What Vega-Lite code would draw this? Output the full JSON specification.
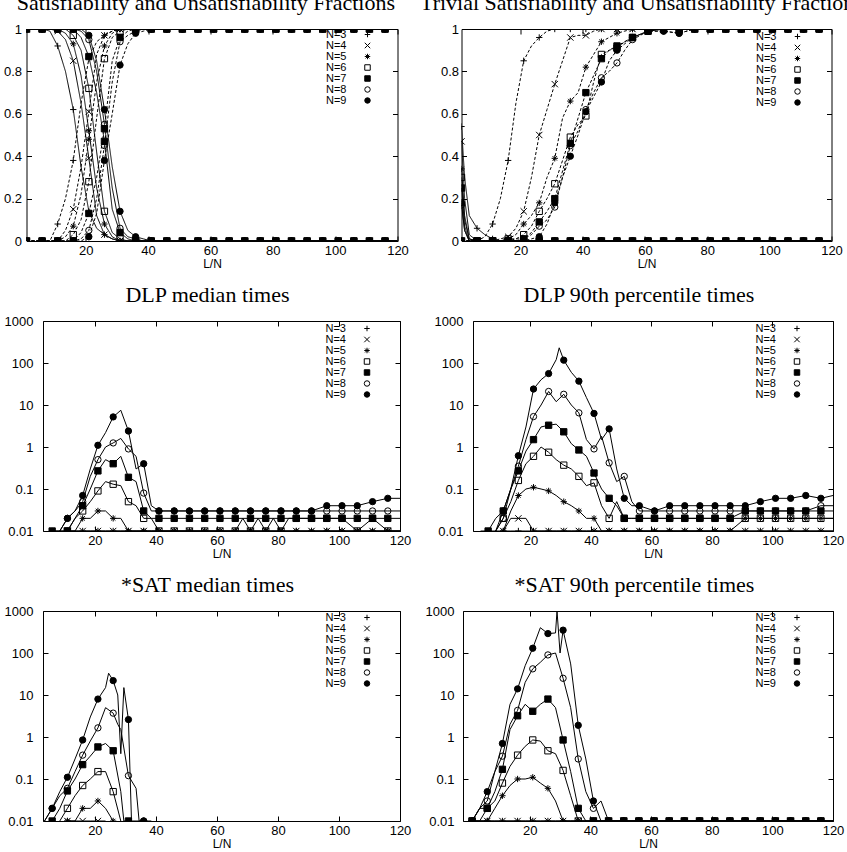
{
"$schema": "https://vega.github.io/schema/vega-lite/v6.json",
"padding": {"left": 2.5, "top": -9, "right": 0, "bottom": 0},
"background": "white",
"config": {
  "view": {"stroke": "black", "strokeWidth": 1},
  "axis": {"domain": false, "grid": false, "tickColor": "black", "tickSize": -5, "labelPadding": 8, "labelFont": "Liberation Sans", "labelFontSize": 13, "labelColor": "black", "titleFont": "Liberation Sans", "titleFontSize": 12, "titleFontWeight": "normal", "titleColor": "black", "titlePadding": 1, "labelFlush": false, "labelOverlap": false},
  "title": {"font": "Liberation Serif", "fontSize": 22, "fontWeight": "normal", "color": "black", "frame": "bounds", "anchor": "middle", "offset": 8},
  "legend": {"orient": "none", "title": null, "padding": 0, "labelAlign": "right", "labelOffset": -26.5, "labelFont": "Liberation Sans", "labelFontSize": 11, "labelColor": "black", "rowPadding": -2, "symbolSize": 30, "symbolStrokeWidth": 1}
},
"datasets": {
"p1": [
{"x":1,"k":"sat","n3":1,"n4":1,"n5":1,"n6":1,"n7":1,"n8":1,"n9":1},
{"x":3.5,"k":"sat","n3":1,"n4":1,"n5":1,"n6":1,"n7":1,"n8":1,"n9":1},
{"x":6,"k":"sat","n3":1,"n4":1,"n5":1,"n6":1,"n7":1,"n8":1,"n9":1},
{"x":8.5,"k":"sat","n3":0.99,"n4":1,"n5":1,"n6":1,"n7":1,"n8":1,"n9":1},
{"x":11,"k":"sat","n3":0.92,"n4":0.99,"n5":1,"n6":1,"n7":1,"n8":1,"n9":1},
{"x":13.5,"k":"sat","n3":0.8,"n4":0.95,"n5":0.98,"n6":1,"n7":1,"n8":1,"n9":1},
{"x":16,"k":"sat","n3":0.62,"n4":0.85,"n5":0.93,"n6":0.97,"n7":1,"n8":1,"n9":1},
{"x":18.5,"k":"sat","n3":0.35,"n4":0.65,"n5":0.78,"n6":0.9,"n7":0.96,"n8":0.99,"n9":1},
{"x":21,"k":"sat","n3":0.14,"n4":0.39,"n5":0.52,"n6":0.72,"n7":0.87,"n8":0.95,"n9":0.97},
{"x":23.5,"k":"sat","n3":0.06,"n4":0.12,"n5":0.25,"n6":0.42,"n7":0.7,"n8":0.8,"n9":0.85},
{"x":26,"k":"sat","n3":0.03,"n4":0.03,"n5":0.08,"n6":0.14,"n7":0.47,"n8":0.55,"n9":0.62},
{"x":28.5,"k":"sat","n3":0.01,"n4":0.01,"n5":0.02,"n6":0.04,"n7":0.15,"n8":0.25,"n9":0.35},
{"x":31,"k":"sat","n3":0,"n4":0,"n5":0,"n6":0.01,"n7":0.04,"n8":0.06,"n9":0.14},
{"x":33.5,"k":"sat","n3":0,"n4":0,"n5":0,"n6":0,"n7":0.01,"n8":0.02,"n9":0.05},
{"x":36,"k":"sat","n3":0,"n4":0,"n5":0,"n6":0,"n7":0,"n8":0.01,"n9":0.02},
{"x":38.5,"k":"sat","n3":0,"n4":0,"n5":0,"n6":0,"n7":0,"n8":0,"n9":0.01},
{"x":41,"k":"sat","n3":0,"n4":0,"n5":0,"n6":0,"n7":0,"n8":0,"n9":0},
{"x":46,"k":"sat","n3":0,"n4":0,"n5":0,"n6":0,"n7":0,"n8":0,"n9":0},
{"x":51,"k":"sat","n3":0,"n4":0,"n5":0,"n6":0,"n7":0,"n8":0,"n9":0},
{"x":56,"k":"sat","n3":0,"n4":0,"n5":0,"n6":0,"n7":0,"n8":0,"n9":0},
{"x":61,"k":"sat","n3":0,"n4":0,"n5":0,"n6":0,"n7":0,"n8":0,"n9":0},
{"x":66,"k":"sat","n3":0,"n4":0,"n5":0,"n6":0,"n7":0,"n8":0,"n9":0},
{"x":71,"k":"sat","n3":0,"n4":0,"n5":0,"n6":0,"n7":0,"n8":0,"n9":0},
{"x":76,"k":"sat","n3":0,"n4":0,"n5":0,"n6":0,"n7":0,"n8":0,"n9":0},
{"x":81,"k":"sat","n3":0,"n4":0,"n5":0,"n6":0,"n7":0,"n8":0,"n9":0},
{"x":86,"k":"sat","n3":0,"n4":0,"n5":0,"n6":0,"n7":0,"n8":0,"n9":0},
{"x":91,"k":"sat","n3":0,"n4":0,"n5":0,"n6":0,"n7":0,"n8":0,"n9":0},
{"x":96,"k":"sat","n3":0,"n4":0,"n5":0,"n6":0,"n7":0,"n8":0,"n9":0},
{"x":101,"k":"sat","n3":0,"n4":0,"n5":0,"n6":0,"n7":0,"n8":0,"n9":0},
{"x":106,"k":"sat","n3":0,"n4":0,"n5":0,"n6":0,"n7":0,"n8":0,"n9":0},
{"x":111,"k":"sat","n3":0,"n4":0,"n5":0,"n6":0,"n7":0,"n8":0,"n9":0},
{"x":116,"k":"sat","n3":0,"n4":0,"n5":0,"n6":0,"n7":0,"n8":0,"n9":0},
{"x":120,"k":"sat","n3":0,"n4":0,"n5":0,"n6":0,"n7":0,"n8":0,"n9":0},
{"x":1,"k":"unsat","n3":0,"n4":0,"n5":0,"n6":0,"n7":0,"n8":0,"n9":0},
{"x":3.5,"k":"unsat","n3":0,"n4":0,"n5":0,"n6":0,"n7":0,"n8":0,"n9":0},
{"x":6,"k":"unsat","n3":0,"n4":0,"n5":0,"n6":0,"n7":0,"n8":0,"n9":0},
{"x":8.5,"k":"unsat","n3":0,"n4":0,"n5":0,"n6":0,"n7":0,"n8":0,"n9":0},
{"x":11,"k":"unsat","n3":0.08,"n4":0,"n5":0,"n6":0,"n7":0,"n8":0,"n9":0},
{"x":13.5,"k":"unsat","n3":0.2,"n4":0.05,"n5":0.02,"n6":0,"n7":0,"n8":0,"n9":0},
{"x":16,"k":"unsat","n3":0.38,"n4":0.15,"n5":0.07,"n6":0.03,"n7":0,"n8":0,"n9":0},
{"x":18.5,"k":"unsat","n3":0.65,"n4":0.35,"n5":0.22,"n6":0.1,"n7":0.04,"n8":0.01,"n9":0},
{"x":21,"k":"unsat","n3":0.86,"n4":0.61,"n5":0.48,"n6":0.28,"n7":0.13,"n8":0.05,"n9":0.02},
{"x":23.5,"k":"unsat","n3":0.94,"n4":0.88,"n5":0.75,"n6":0.58,"n7":0.3,"n8":0.2,"n9":0.13},
{"x":26,"k":"unsat","n3":0.97,"n4":0.97,"n5":0.92,"n6":0.86,"n7":0.53,"n8":0.45,"n9":0.38},
{"x":28.5,"k":"unsat","n3":0.99,"n4":0.99,"n5":0.98,"n6":0.96,"n7":0.85,"n8":0.75,"n9":0.6},
{"x":31,"k":"unsat","n3":1,"n4":1,"n5":1,"n6":0.99,"n7":0.96,"n8":0.94,"n9":0.83},
{"x":33.5,"k":"unsat","n3":1,"n4":1,"n5":1,"n6":1,"n7":0.99,"n8":0.97,"n9":0.93},
{"x":36,"k":"unsat","n3":1,"n4":1,"n5":1,"n6":1,"n7":1,"n8":0.99,"n9":0.98},
{"x":38.5,"k":"unsat","n3":1,"n4":1,"n5":1,"n6":1,"n7":1,"n8":1,"n9":0.99},
{"x":41,"k":"unsat","n3":1,"n4":1,"n5":1,"n6":1,"n7":1,"n8":1,"n9":1},
{"x":46,"k":"unsat","n3":1,"n4":1,"n5":1,"n6":1,"n7":1,"n8":1,"n9":1},
{"x":51,"k":"unsat","n3":1,"n4":1,"n5":1,"n6":1,"n7":1,"n8":1,"n9":1},
{"x":56,"k":"unsat","n3":1,"n4":1,"n5":1,"n6":1,"n7":1,"n8":1,"n9":1},
{"x":61,"k":"unsat","n3":1,"n4":1,"n5":1,"n6":1,"n7":1,"n8":1,"n9":1},
{"x":66,"k":"unsat","n3":1,"n4":1,"n5":1,"n6":1,"n7":1,"n8":1,"n9":1},
{"x":71,"k":"unsat","n3":1,"n4":1,"n5":1,"n6":1,"n7":1,"n8":1,"n9":1},
{"x":76,"k":"unsat","n3":1,"n4":1,"n5":1,"n6":1,"n7":1,"n8":1,"n9":1},
{"x":81,"k":"unsat","n3":1,"n4":1,"n5":1,"n6":1,"n7":1,"n8":1,"n9":1},
{"x":86,"k":"unsat","n3":1,"n4":1,"n5":1,"n6":1,"n7":1,"n8":1,"n9":1},
{"x":91,"k":"unsat","n3":1,"n4":1,"n5":1,"n6":1,"n7":1,"n8":1,"n9":1},
{"x":96,"k":"unsat","n3":1,"n4":1,"n5":1,"n6":1,"n7":1,"n8":1,"n9":1},
{"x":101,"k":"unsat","n3":1,"n4":1,"n5":1,"n6":1,"n7":1,"n8":1,"n9":1},
{"x":106,"k":"unsat","n3":1,"n4":1,"n5":1,"n6":1,"n7":1,"n8":1,"n9":1},
{"x":111,"k":"unsat","n3":1,"n4":1,"n5":1,"n6":1,"n7":1,"n8":1,"n9":1},
{"x":116,"k":"unsat","n3":1,"n4":1,"n5":1,"n6":1,"n7":1,"n8":1,"n9":1},
{"x":120,"k":"unsat","n3":1,"n4":1,"n5":1,"n6":1,"n7":1,"n8":1,"n9":1}
],
"p2": [
{"x":1,"k":"unsat","n3":0.54,"n4":0.47,"n5":0.34,"n6":0.3,"n7":0.25,"n8":0.17,"n9":0.18},
{"x":2,"k":"unsat","n3":0.3,"n4":0.2,"n5":0.12,"n6":0.1,"n7":0.07,"n8":0.05,"n9":0.05},
{"x":3.5,"k":"unsat","n3":0.12,"n4":0.03,"n5":0.01,"n6":0.01,"n7":0,"n8":0,"n9":0},
{"x":6,"k":"unsat","n3":0.06,"n4":0,"n5":0,"n6":0,"n7":0,"n8":0,"n9":0},
{"x":8.5,"k":"unsat","n3":0.03,"n4":0,"n5":0,"n6":0,"n7":0,"n8":0,"n9":0},
{"x":11,"k":"unsat","n3":0.01,"n4":0,"n5":0,"n6":0,"n7":0,"n8":0,"n9":0},
{"x":13.5,"k":"unsat","n3":0,"n4":0,"n5":0,"n6":0,"n7":0,"n8":0,"n9":0},
{"x":16,"k":"unsat","n3":0,"n4":0,"n5":0,"n6":0,"n7":0,"n8":0,"n9":0},
{"x":21,"k":"unsat","n3":0,"n4":0,"n5":0,"n6":0,"n7":0,"n8":0,"n9":0},
{"x":26,"k":"unsat","n3":0,"n4":0,"n5":0,"n6":0,"n7":0,"n8":0,"n9":0},
{"x":31,"k":"unsat","n3":0,"n4":0,"n5":0,"n6":0,"n7":0,"n8":0,"n9":0},
{"x":36,"k":"unsat","n3":0,"n4":0,"n5":0,"n6":0,"n7":0,"n8":0,"n9":0},
{"x":41,"k":"unsat","n3":0,"n4":0,"n5":0,"n6":0,"n7":0,"n8":0,"n9":0},
{"x":46,"k":"unsat","n3":0,"n4":0,"n5":0,"n6":0,"n7":0,"n8":0,"n9":0},
{"x":51,"k":"unsat","n3":0,"n4":0,"n5":0,"n6":0,"n7":0,"n8":0,"n9":0},
{"x":56,"k":"unsat","n3":0,"n4":0,"n5":0,"n6":0,"n7":0,"n8":0,"n9":0},
{"x":61,"k":"unsat","n3":0,"n4":0,"n5":0,"n6":0,"n7":0,"n8":0,"n9":0},
{"x":66,"k":"unsat","n3":0,"n4":0,"n5":0,"n6":0,"n7":0,"n8":0,"n9":0},
{"x":71,"k":"unsat","n3":0,"n4":0,"n5":0,"n6":0,"n7":0,"n8":0,"n9":0},
{"x":76,"k":"unsat","n3":0,"n4":0,"n5":0,"n6":0,"n7":0,"n8":0,"n9":0},
{"x":81,"k":"unsat","n3":0,"n4":0,"n5":0,"n6":0,"n7":0,"n8":0,"n9":0},
{"x":86,"k":"unsat","n3":0,"n4":0,"n5":0,"n6":0,"n7":0,"n8":0,"n9":0},
{"x":91,"k":"unsat","n3":0,"n4":0,"n5":0,"n6":0,"n7":0,"n8":0,"n9":0},
{"x":96,"k":"unsat","n3":0,"n4":0,"n5":0,"n6":0,"n7":0,"n8":0,"n9":0},
{"x":101,"k":"unsat","n3":0,"n4":0,"n5":0,"n6":0,"n7":0,"n8":0,"n9":0},
{"x":106,"k":"unsat","n3":0,"n4":0,"n5":0,"n6":0,"n7":0,"n8":0,"n9":0},
{"x":111,"k":"unsat","n3":0,"n4":0,"n5":0,"n6":0,"n7":0,"n8":0,"n9":0},
{"x":116,"k":"unsat","n3":0,"n4":0,"n5":0,"n6":0,"n7":0,"n8":0,"n9":0},
{"x":120,"k":"unsat","n3":0,"n4":0,"n5":0,"n6":0,"n7":0,"n8":0,"n9":0},
{"x":1,"k":"sat","n3":0,"n4":0,"n5":0,"n6":0,"n7":0,"n8":0,"n9":0},
{"x":3.5,"k":"sat","n3":0,"n4":0,"n5":0,"n6":0,"n7":0,"n8":0,"n9":0},
{"x":6,"k":"sat","n3":0,"n4":0,"n5":0,"n6":0,"n7":0,"n8":0,"n9":0},
{"x":8.5,"k":"sat","n3":0.02,"n4":0,"n5":0,"n6":0,"n7":0,"n8":0,"n9":0},
{"x":11,"k":"sat","n3":0.08,"n4":0,"n5":0,"n6":0,"n7":0,"n8":0,"n9":0},
{"x":13.5,"k":"sat","n3":0.2,"n4":0.01,"n5":0,"n6":0,"n7":0,"n8":0,"n9":0},
{"x":16,"k":"sat","n3":0.38,"n4":0.02,"n5":0.01,"n6":0.01,"n7":0,"n8":0,"n9":0},
{"x":18.5,"k":"sat","n3":0.65,"n4":0.06,"n5":0.03,"n6":0.01,"n7":0.01,"n8":0,"n9":0},
{"x":21,"k":"sat","n3":0.85,"n4":0.14,"n5":0.08,"n6":0.03,"n7":0.01,"n8":0.01,"n9":0},
{"x":23.5,"k":"sat","n3":0.92,"n4":0.3,"n5":0.12,"n6":0.07,"n7":0.04,"n8":0.03,"n9":0.01},
{"x":26,"k":"sat","n3":0.96,"n4":0.5,"n5":0.18,"n6":0.14,"n7":0.09,"n8":0.07,"n9":0.02},
{"x":28.5,"k":"sat","n3":0.99,"n4":0.62,"n5":0.3,"n6":0.2,"n7":0.14,"n8":0.1,"n9":0.08},
{"x":31,"k":"sat","n3":1,"n4":0.74,"n5":0.39,"n6":0.27,"n7":0.2,"n8":0.16,"n9":0.18},
{"x":33.5,"k":"sat","n3":1,"n4":0.85,"n5":0.58,"n6":0.38,"n7":0.33,"n8":0.3,"n9":0.3},
{"x":36,"k":"sat","n3":1,"n4":0.96,"n5":0.66,"n6":0.49,"n7":0.46,"n8":0.45,"n9":0.4},
{"x":38.5,"k":"sat","n3":1,"n4":0.97,"n5":0.7,"n6":0.55,"n7":0.58,"n8":0.52,"n9":0.5},
{"x":41,"k":"sat","n3":1,"n4":0.97,"n5":0.82,"n6":0.59,"n7":0.7,"n8":0.62,"n9":0.61},
{"x":43.5,"k":"sat","n3":1,"n4":0.99,"n5":0.88,"n6":0.75,"n7":0.78,"n8":0.7,"n9":0.68},
{"x":46,"k":"sat","n3":1,"n4":1,"n5":0.94,"n6":0.88,"n7":0.86,"n8":0.77,"n9":0.75},
{"x":48.5,"k":"sat","n3":1,"n4":1,"n5":0.96,"n6":0.9,"n7":0.9,"n8":0.8,"n9":0.85},
{"x":51,"k":"sat","n3":1,"n4":1,"n5":0.98,"n6":0.91,"n7":0.92,"n8":0.84,"n9":0.9},
{"x":53.5,"k":"sat","n3":1,"n4":1,"n5":0.99,"n6":0.94,"n7":0.94,"n8":0.9,"n9":0.93},
{"x":56,"k":"sat","n3":1,"n4":1,"n5":1,"n6":0.96,"n7":0.96,"n8":0.95,"n9":0.96},
{"x":61,"k":"sat","n3":1,"n4":1,"n5":1,"n6":0.99,"n7":0.99,"n8":0.99,"n9":0.99},
{"x":66,"k":"sat","n3":1,"n4":1,"n5":1,"n6":1,"n7":1,"n8":0.99,"n9":0.99},
{"x":71,"k":"sat","n3":1,"n4":1,"n5":1,"n6":1,"n7":1,"n8":0.98,"n9":0.98},
{"x":76,"k":"sat","n3":1,"n4":1,"n5":1,"n6":1,"n7":1,"n8":1,"n9":1},
{"x":81,"k":"sat","n3":1,"n4":1,"n5":1,"n6":1,"n7":1,"n8":1,"n9":1},
{"x":86,"k":"sat","n3":1,"n4":1,"n5":1,"n6":1,"n7":1,"n8":1,"n9":1},
{"x":91,"k":"sat","n3":1,"n4":1,"n5":1,"n6":1,"n7":1,"n8":1,"n9":1},
{"x":96,"k":"sat","n3":1,"n4":1,"n5":1,"n6":1,"n7":1,"n8":1,"n9":1},
{"x":101,"k":"sat","n3":1,"n4":1,"n5":1,"n6":1,"n7":1,"n8":1,"n9":1},
{"x":106,"k":"sat","n3":1,"n4":1,"n5":1,"n6":1,"n7":1,"n8":1,"n9":1},
{"x":111,"k":"sat","n3":1,"n4":1,"n5":1,"n6":1,"n7":1,"n8":1,"n9":1},
{"x":116,"k":"sat","n3":1,"n4":1,"n5":1,"n6":1,"n7":1,"n8":1,"n9":1},
{"x":120,"k":"sat","n3":1,"n4":1,"n5":1,"n6":1,"n7":1,"n8":1,"n9":1}
],
"p3": [
{"x":6,"n3":0.01,"n7":0.01},
{"x":8.5,"n3":0.01,"n7":0.01,"n8":0.01,"n9":0.01},
{"x":11,"n3":0.01,"n4":0.01,"n5":0.01,"n6":0.01,"n7":0.01,"n8":0.02,"n9":0.02},
{"x":13.5,"n3":0.01,"n4":0.01,"n5":0.01,"n6":0.02,"n7":0.02,"n8":0.03,"n9":0.03},
{"x":16,"n3":0.01,"n4":0.01,"n5":0.02,"n6":0.03,"n7":0.04,"n8":0.05,"n9":0.07},
{"x":18.5,"n3":0.01,"n4":0.01,"n5":0.02,"n6":0.05,"n7":0.1,"n8":0.2,"n9":0.3},
{"x":21,"n3":0.01,"n4":0.01,"n5":0.03,"n6":0.09,"n7":0.27,"n8":0.5,"n9":1.1},
{"x":23.5,"n3":0.01,"n4":0.01,"n5":0.03,"n6":0.15,"n7":0.5,"n8":1.0,"n9":2.2},
{"x":26,"n3":0.01,"n4":0.01,"n5":0.02,"n6":0.13,"n7":0.4,"n8":1.25,"n9":5.2},
{"x":28.5,"n3":0.01,"n4":0.01,"n5":0.02,"n6":0.12,"n7":0.6,"n8":1.6,"n9":7.5},
{"x":31,"n3":0.01,"n4":0.01,"n5":0.01,"n6":0.05,"n7":0.19,"n8":0.9,"n9":2.4},
{"x":33.5,"n3":0.01,"n4":0.01,"n5":0.01,"n6":0.04,"n7":0.15,"n8":0.6,"n9":0.3},
{"x":36,"n3":0.01,"n4":0.01,"n5":0.01,"n6":0.02,"n7":0.03,"n8":0.08,"n9":0.4},
{"x":38.5,"n3":0.01,"n4":0.01,"n5":0.01,"n6":0.02,"n7":0.02,"n8":0.03,"n9":0.04},
{"x":41,"n3":0.01,"n4":0.01,"n5":0.01,"n6":0.01,"n7":0.02,"n8":0.03,"n9":0.03},
{"x":46,"n3":0.01,"n4":0.01,"n5":0.01,"n6":0.01,"n7":0.02,"n8":0.03,"n9":0.03},
{"x":51,"n3":0.01,"n4":0.01,"n5":0.01,"n6":0.01,"n7":0.02,"n8":0.03,"n9":0.03},
{"x":56,"n3":0.01,"n4":0.01,"n5":0.01,"n6":0.01,"n7":0.02,"n8":0.03,"n9":0.03},
{"x":61,"n3":0.01,"n4":0.01,"n5":0.01,"n6":0.01,"n7":0.02,"n8":0.03,"n9":0.03},
{"x":66,"n3":0.01,"n4":0.01,"n5":0.01,"n6":0.01,"n7":0.02,"n8":0.03,"n9":0.03},
{"x":68.5,"n6":0.02},
{"x":71,"n3":0.01,"n4":0.01,"n5":0.01,"n6":0.01,"n7":0.02,"n8":0.03,"n9":0.03},
{"x":73.5,"n6":0.02},
{"x":76,"n3":0.01,"n4":0.01,"n5":0.01,"n6":0.01,"n7":0.02,"n8":0.03,"n9":0.03},
{"x":78.5,"n6":0.02},
{"x":81,"n3":0.01,"n4":0.01,"n5":0.01,"n6":0.01,"n7":0.02,"n8":0.03,"n9":0.03},
{"x":83.5,"n6":0.02},
{"x":86,"n3":0.01,"n4":0.01,"n5":0.01,"n6":0.02,"n7":0.02,"n8":0.03,"n9":0.03},
{"x":91,"n3":0.01,"n4":0.01,"n5":0.01,"n6":0.02,"n7":0.02,"n8":0.03,"n9":0.03},
{"x":96,"n3":0.01,"n4":0.01,"n5":0.01,"n6":0.02,"n7":0.02,"n8":0.03,"n9":0.04},
{"x":101,"n3":0.01,"n4":0.01,"n5":0.01,"n6":0.02,"n7":0.02,"n8":0.03,"n9":0.04},
{"x":106,"n3":0.01,"n4":0.01,"n5":0.01,"n6":0.01,"n7":0.02,"n8":0.03,"n9":0.04},
{"x":111,"n3":0.01,"n4":0.01,"n5":0.01,"n6":0.02,"n7":0.02,"n8":0.03,"n9":0.05},
{"x":116,"n3":0.01,"n4":0.01,"n5":0.01,"n6":0.01,"n7":0.02,"n8":0.03,"n9":0.06},
{"x":120,"n3":0.01,"n4":0.01,"n5":0.01,"n6":0.01,"n7":0.02,"n8":0.03,"n9":0.06}
],
"p4": [
{"x":3.5,"n3":0.01},
{"x":6,"n3":0.01,"n7":0.01},
{"x":8.5,"n3":0.01,"n6":0.01,"n7":0.02,"n8":0.01,"n9":0.01},
{"x":11,"n3":0.01,"n4":0.01,"n5":0.01,"n6":0.02,"n7":0.03,"n8":0.02,"n9":0.03},
{"x":13.5,"n3":0.01,"n4":0.02,"n5":0.03,"n6":0.05,"n7":0.1,"n8":0.1,"n9":0.1},
{"x":16,"n3":0.01,"n4":0.02,"n5":0.07,"n6":0.16,"n7":0.27,"n8":0.35,"n9":0.62},
{"x":18.5,"n3":0.01,"n4":0.02,"n5":0.1,"n6":0.4,"n7":0.8,"n8":1.5,"n9":3},
{"x":21,"n3":0.01,"n4":0.01,"n5":0.11,"n6":0.6,"n7":1.5,"n8":5.3,"n9":24},
{"x":23.5,"n3":0.01,"n4":0.01,"n5":0.1,"n6":1.0,"n7":3,"n8":10,"n9":40},
{"x":26,"n3":0.01,"n4":0.01,"n5":0.09,"n6":0.75,"n7":3.3,"n8":21,"n9":56},
{"x":28.5,"n3":0.01,"n4":0.01,"n5":0.07,"n6":0.5,"n7":3.5,"n8":12,"n9":120},
{"x":29.5,"n9":230},
{"x":31,"n3":0.01,"n4":0.01,"n5":0.05,"n6":0.37,"n7":2.3,"n8":18,"n9":117},
{"x":33.5,"n3":0.01,"n4":0.01,"n5":0.04,"n6":0.3,"n7":1.2,"n8":10,"n9":60},
{"x":36,"n3":0.01,"n4":0.01,"n5":0.03,"n6":0.2,"n7":0.85,"n8":6.5,"n9":37},
{"x":38.5,"n3":0.01,"n4":0.01,"n5":0.02,"n6":0.12,"n7":0.6,"n8":1.5,"n9":15},
{"x":41,"n3":0.01,"n4":0.01,"n5":0.02,"n6":0.14,"n7":0.24,"n8":0.9,"n9":6.3},
{"x":43.5,"n3":0.01,"n4":0.01,"n5":0.01,"n6":0.04,"n7":0.1,"n8":1.8,"n9":1.5},
{"x":46,"n3":0.01,"n4":0.01,"n5":0.01,"n6":0.02,"n7":0.06,"n8":0.42,"n9":2.7},
{"x":48.5,"n3":0.01,"n4":0.01,"n5":0.01,"n6":0.05,"n7":0.04,"n8":0.15,"n9":0.3},
{"x":51,"n3":0.01,"n4":0.01,"n5":0.01,"n6":0.02,"n7":0.02,"n8":0.2,"n9":0.06},
{"x":53.5,"n3":0.01,"n4":0.01,"n5":0.01,"n6":0.02,"n7":0.02,"n8":0.05,"n9":0.04},
{"x":56,"n3":0.01,"n4":0.01,"n5":0.01,"n6":0.02,"n7":0.02,"n8":0.03,"n9":0.04},
{"x":61,"n3":0.01,"n4":0.01,"n5":0.01,"n6":0.02,"n7":0.02,"n8":0.03,"n9":0.03},
{"x":66,"n3":0.01,"n4":0.01,"n5":0.01,"n6":0.02,"n7":0.02,"n8":0.03,"n9":0.04},
{"x":71,"n3":0.01,"n4":0.01,"n5":0.01,"n6":0.02,"n7":0.02,"n8":0.03,"n9":0.04},
{"x":76,"n3":0.01,"n4":0.01,"n5":0.01,"n6":0.02,"n7":0.02,"n8":0.03,"n9":0.04},
{"x":81,"n3":0.01,"n4":0.01,"n5":0.01,"n6":0.02,"n7":0.02,"n8":0.03,"n9":0.04},
{"x":86,"n3":0.01,"n4":0.01,"n5":0.01,"n6":0.02,"n7":0.02,"n8":0.03,"n9":0.04},
{"x":91,"n3":0.01,"n4":0.01,"n5":0.02,"n6":0.02,"n7":0.03,"n8":0.03,"n9":0.04},
{"x":96,"n3":0.01,"n4":0.01,"n5":0.02,"n6":0.02,"n7":0.03,"n8":0.03,"n9":0.05},
{"x":101,"n3":0.01,"n4":0.01,"n5":0.02,"n6":0.02,"n7":0.03,"n8":0.03,"n9":0.06},
{"x":106,"n3":0.01,"n4":0.01,"n5":0.02,"n6":0.02,"n7":0.03,"n8":0.03,"n9":0.06},
{"x":111,"n3":0.01,"n4":0.01,"n5":0.02,"n6":0.02,"n7":0.03,"n8":0.03,"n9":0.07},
{"x":116,"n3":0.01,"n4":0.01,"n5":0.02,"n6":0.02,"n7":0.03,"n8":0.04,"n9":0.06},
{"x":120,"n3":0.01,"n4":0.01,"n5":0.02,"n6":0.02,"n7":0.03,"n8":0.04,"n9":0.07}
],
"p5": [
{"x":3.5,"n8":0.01,"n9":0.01},
{"x":6,"n7":0.01,"n8":0.02,"n9":0.02},
{"x":8.5,"n6":0.01,"n7":0.02,"n8":0.04,"n9":0.05},
{"x":11,"n3":0.01,"n4":0.01,"n5":0.01,"n6":0.02,"n7":0.052,"n8":0.06,"n9":0.11},
{"x":13.5,"n4":0.01,"n5":0.01,"n6":0.04,"n7":0.1,"n8":0.15,"n9":0.3},
{"x":16,"n4":0.01,"n5":0.02,"n6":0.07,"n7":0.22,"n8":0.37,"n9":0.85},
{"x":18.5,"n4":0.01,"n5":0.02,"n6":0.1,"n7":0.35,"n8":0.8,"n9":3},
{"x":21,"n4":0.01,"n5":0.03,"n6":0.15,"n7":0.58,"n8":1.65,"n9":8},
{"x":23.5,"n4":0.01,"n5":0.02,"n6":0.15,"n7":0.7,"n8":5,"n9":15},
{"x":24.5,"n9":33},
{"x":26,"n5":0.01,"n6":0.05,"n7":0.47,"n8":3.7,"n9":22},
{"x":27.5,"n8":2,"n9":10},
{"x":28.5,"n6":0.01,"n7":0.05,"n8":1.5,"n9":0.4},
{"x":29.5,"n7":0.01,"n9":15},
{"x":31,"n7":0.01,"n8":0.12,"n9":2.6},
{"x":32,"n9":0.01},
{"x":33.5,"n8":0.06,"n9":0.01},
{"x":34.5,"n8":0.01},
{"x":36,"n8":0.01,"n9":0.01},
{"x":38.5,"n9":0.01}
],
"p6": [
{"x":1,"n3":0.01,"n4":0.01,"n5":0.01,"n6":0.01,"n7":0.01,"n8":0.01,"n9":0.01},
{"x":3.5,"n3":0.01,"n4":0.01,"n5":0.01,"n6":0.01,"n7":0.02,"n8":0.02,"n9":0.02},
{"x":6,"n3":0.01,"n4":0.01,"n5":0.01,"n6":0.02,"n7":0.02,"n8":0.03,"n9":0.05},
{"x":8.5,"n3":0.01,"n4":0.01,"n5":0.02,"n6":0.03,"n7":0.05,"n8":0.15,"n9":0.15},
{"x":11,"n3":0.01,"n4":0.01,"n5":0.04,"n6":0.08,"n7":0.17,"n8":0.35,"n9":0.7},
{"x":13.5,"n3":0.01,"n4":0.01,"n5":0.07,"n6":0.2,"n7":1.5,"n8":2,"n9":6},
{"x":16,"n3":0.01,"n4":0.01,"n5":0.1,"n6":0.37,"n7":3.2,"n8":4.3,"n9":14},
{"x":18.5,"n3":0.01,"n4":0.01,"n5":0.1,"n6":0.6,"n7":6,"n8":20,"n9":50},
{"x":21,"n3":0.01,"n4":0.01,"n5":0.11,"n6":0.85,"n7":4.1,"n8":42,"n9":130},
{"x":23.5,"n3":0.01,"n4":0.01,"n5":0.08,"n6":0.8,"n7":6,"n8":60,"n9":400},
{"x":26,"n3":0.01,"n4":0.01,"n5":0.06,"n6":0.47,"n7":8,"n8":90,"n9":290},
{"x":28.5,"n3":0.01,"n4":0.01,"n5":0.03,"n6":0.4,"n7":5,"n8":100,"n9":300},
{"x":29,"n9":1000},
{"x":30,"n9":100},
{"x":31,"n3":0.01,"n4":0.01,"n5":0.01,"n6":0.16,"n7":0.85,"n8":25,"n9":350},
{"x":33.5,"n3":0.01,"n4":0.01,"n5":0.01,"n6":0.04,"n7":0.15,"n8":5,"n9":55},
{"x":36,"n3":0.01,"n4":0.01,"n5":0.01,"n6":0.01,"n7":0.02,"n8":0.3,"n9":1.9},
{"x":38.5,"n3":0.01,"n4":0.01,"n5":0.01,"n6":0.01,"n7":0.01,"n8":0.05,"n9":0.3},
{"x":41,"n3":0.01,"n4":0.01,"n5":0.01,"n6":0.01,"n7":0.01,"n8":0.02,"n9":0.03},
{"x":43.5,"n3":0.01,"n4":0.01,"n5":0.01,"n6":0.01,"n7":0.01,"n8":0.03,"n9":0.01},
{"x":46,"n3":0.01,"n4":0.01,"n5":0.01,"n6":0.01,"n7":0.01,"n8":0.01,"n9":0.01},
{"x":51,"n3":0.01,"n4":0.01,"n5":0.01,"n6":0.01,"n7":0.01,"n8":0.01,"n9":0.01},
{"x":56,"n3":0.01,"n4":0.01,"n5":0.01,"n6":0.01,"n7":0.01,"n8":0.01,"n9":0.01},
{"x":61,"n3":0.01,"n4":0.01,"n5":0.01,"n6":0.01,"n7":0.01,"n8":0.01,"n9":0.01},
{"x":66,"n3":0.01,"n4":0.01,"n5":0.01,"n6":0.01,"n7":0.01,"n8":0.01,"n9":0.01},
{"x":71,"n3":0.01,"n4":0.01,"n5":0.01,"n6":0.01,"n7":0.01,"n8":0.01,"n9":0.01},
{"x":76,"n3":0.01,"n4":0.01,"n5":0.01,"n6":0.01,"n7":0.01,"n8":0.01,"n9":0.01},
{"x":81,"n3":0.01,"n4":0.01,"n5":0.01,"n6":0.01,"n7":0.01,"n8":0.01,"n9":0.01},
{"x":86,"n3":0.01,"n4":0.01,"n5":0.01,"n6":0.01,"n7":0.01,"n8":0.01,"n9":0.01},
{"x":91,"n3":0.01,"n4":0.01,"n5":0.01,"n6":0.01,"n7":0.01,"n8":0.01,"n9":0.01},
{"x":96,"n3":0.01,"n4":0.01,"n5":0.01,"n6":0.01,"n7":0.01,"n8":0.01,"n9":0.01},
{"x":101,"n3":0.01,"n4":0.01,"n5":0.01,"n6":0.01,"n7":0.01,"n8":0.01,"n9":0.01},
{"x":106,"n3":0.01,"n4":0.01,"n5":0.01,"n6":0.01,"n7":0.01,"n8":0.01,"n9":0.01},
{"x":111,"n3":0.01,"n4":0.01,"n5":0.01,"n6":0.01,"n7":0.01,"n8":0.01,"n9":0.01},
{"x":116,"n3":0.01,"n4":0.01,"n5":0.01,"n6":0.01,"n7":0.01,"n8":0.01,"n9":0.01},
{"x":120,"n3":0.01,"n4":0.01,"n5":0.01,"n6":0.01,"n7":0.01,"n8":0.01,"n9":0.01}
]
},
"resolve": {"scale": {"shape": "independent", "fill": "independent", "stroke": "independent", "strokeDash": "independent", "x": "independent", "y": "independent"}, "legend": {"shape": "independent", "fill": "independent", "stroke": "independent"}},
"spacing": 13,
"vconcat": [
{
"hconcat": [
{
"width": 371, "height": 212,
"title": "Satisfiability and Unsatisfiability Fractions",
"data": {"name": "p1"},
"transform": [{"fold": ["n3","n4","n5","n6","n7","n8","n9"], "as": ["N","v"]}, {"filter": "datum.v != null"}],
"resolve": {"axis": {"x": "independent", "y": "independent"}},
"layer": [
{"mark": {"type": "line", "color": "black", "strokeWidth": 1, "clip": true},
 "encoding": {
  "x": {"field": "x", "type": "quantitative", "title": "L/N", "scale": {"domain": [1, 120], "nice": false, "zero": false}, "axis": {"values": [20,40,60,80,100,120]}},
  "y": {"field": "v", "type": "quantitative", "title": null, "scale": {"domain": [0, 1], "nice": false}, "axis": {"values": [0,0.2,0.4,0.6,0.8,1], "format": "~g", "labelPadding": 10}},
  "detail": {"field": "N"},
  "strokeDash": {"field": "k", "type": "nominal", "legend": null, "scale": {"domain": ["sat","unsat"], "range": [[1,0],[3,2]]}}
 }},
{"transform": [{"filter": "(datum.x - 1) % 5 == 0"}],
 "mark": {"type": "point", "filled": false, "strokeWidth": 1, "size": 40, "opacity": 1, "clip": true},
 "encoding": {
  "x": {"field": "x", "type": "quantitative", "axis": null},
  "y": {"field": "v", "type": "quantitative", "axis": null},
  "shape": {"field": "N", "type": "nominal", "scale": {"domain": ["n3","n4","n5","n6","n7","n8","n9"], "range": ["M-1,0L1,0M0,-1L0,1", "M-1,-1L1,1M-1,1L1,-1", "M-1,0L1,0M0,-1L0,1M-0.7,-0.7L0.7,0.7M-0.7,0.7L0.7,-0.7", "square", "square", "circle", "circle"]}, "legend": {"legendX": 335.5, "legendY": 0, "labelExpr": "'N=' + substring(datum.label, 1)"}},
  "fill": {"field": "N", "type": "nominal", "scale": {"domain": ["n3","n4","n5","n6","n7","n8","n9"], "range": ["transparent","transparent","transparent","transparent","black","transparent","black"]}, "legend": {"legendX": 335.5, "legendY": 0, "labelExpr": "'N=' + substring(datum.label, 1)"}},
  "stroke": {"field": "N", "type": "nominal", "scale": {"domain": ["n3","n4","n5","n6","n7","n8","n9"], "range": ["black","black","black","black","black","black","black"]}, "legend": {"legendX": 335.5, "legendY": 0, "labelExpr": "'N=' + substring(datum.label, 1)"}}
 }},
{"mark": {"type": "point", "opacity": 0, "clip": true},
 "encoding": {
  "x": {"field": "x", "type": "quantitative", "axis": {"orient": "top", "labels": false, "title": null, "values": [20,40,60,80,100,120]}},
  "y": {"field": "v", "type": "quantitative", "axis": {"orient": "right", "labels": false, "title": null, "values": [0,0.2,0.4,0.6,0.8,1]}}
 }}
]
},
{
"width": 370, "height": 212,
"title": "Trivial Satisfiability and Unsatisfiability Fractions",
"data": {"name": "p2"},
"transform": [{"fold": ["n3","n4","n5","n6","n7","n8","n9"], "as": ["N","v"]}, {"filter": "datum.v != null"}],
"resolve": {"axis": {"x": "independent", "y": "independent"}},
"layer": [
{"mark": {"type": "line", "color": "black", "strokeWidth": 1, "clip": true},
 "encoding": {
  "x": {"field": "x", "type": "quantitative", "title": "L/N", "scale": {"domain": [1, 120], "nice": false, "zero": false}, "axis": {"values": [20,40,60,80,100,120]}},
  "y": {"field": "v", "type": "quantitative", "title": null, "scale": {"domain": [0, 1], "nice": false}, "axis": {"values": [0,0.2,0.4,0.6,0.8,1], "format": "~g", "labelPadding": 8}},
  "detail": {"field": "N"},
  "strokeDash": {"field": "k", "type": "nominal", "legend": null, "scale": {"domain": ["sat","unsat"], "range": [[3,2],[1,0]]}}
 }},
{"transform": [{"filter": "(datum.x - 1) % 5 == 0"}],
 "mark": {"type": "point", "filled": false, "strokeWidth": 1, "size": 40, "opacity": 1, "clip": true},
 "encoding": {
  "x": {"field": "x", "type": "quantitative", "axis": null},
  "y": {"field": "v", "type": "quantitative", "axis": null},
  "shape": {"field": "N", "type": "nominal", "scale": {"domain": ["n3","n4","n5","n6","n7","n8","n9"], "range": ["M-1,0L1,0M0,-1L0,1", "M-1,-1L1,1M-1,1L1,-1", "M-1,0L1,0M0,-1L0,1M-0.7,-0.7L0.7,0.7M-0.7,0.7L0.7,-0.7", "square", "square", "circle", "circle"]}, "legend": {"legendX": 330.5, "legendY": 2, "labelExpr": "'N=' + substring(datum.label, 1)"}},
  "fill": {"field": "N", "type": "nominal", "scale": {"domain": ["n3","n4","n5","n6","n7","n8","n9"], "range": ["transparent","transparent","transparent","transparent","black","transparent","black"]}, "legend": {"legendX": 330.5, "legendY": 2, "labelExpr": "'N=' + substring(datum.label, 1)"}},
  "stroke": {"field": "N", "type": "nominal", "scale": {"domain": ["n3","n4","n5","n6","n7","n8","n9"], "range": ["black","black","black","black","black","black","black"]}, "legend": {"legendX": 330.5, "legendY": 2, "labelExpr": "'N=' + substring(datum.label, 1)"}}
 }},
{"mark": {"type": "point", "opacity": 0, "clip": true},
 "encoding": {
  "x": {"field": "x", "type": "quantitative", "axis": {"orient": "top", "labels": false, "title": null, "values": [20,40,60,80,100,120]}},
  "y": {"field": "v", "type": "quantitative", "axis": {"orient": "right", "labels": false, "title": null, "values": [0,0.2,0.4,0.6,0.8,1]}}
 }}
]
}
],
"spacing": 64, "bounds": "flush",
"resolve": {"scale": {"shape": "independent", "fill": "independent", "stroke": "independent", "strokeDash": "independent", "x": "independent", "y": "independent"}, "legend": {"shape": "independent", "fill": "independent", "stroke": "independent"}}
},
{
"hconcat": [
{"width": 1, "height": 210, "view": {"stroke": null}, "data": {"values": [{"a": 0}]}, "mark": {"type": "point", "opacity": 0}},
{
"hconcat": [
{
"width": 357, "height": 210,
"title": "DLP median times",
"data": {"name": "p3"},
"transform": [{"fold": ["n3","n4","n5","n6","n7","n8","n9"], "as": ["N","v"]}, {"filter": "datum.v != null"}],
"resolve": {"axis": {"x": "independent", "y": "independent"}},
"layer": [
{"mark": {"type": "line", "color": "black", "strokeWidth": 1, "clip": true},
 "encoding": {
  "x": {"field": "x", "type": "quantitative", "title": "L/N", "scale": {"domain": [3, 120], "nice": false, "zero": false}, "axis": {"values": [20,40,60,80,100,120]}},
  "y": {"field": "v", "type": "quantitative", "title": null, "scale": {"type": "log", "domain": [0.01, 1000], "nice": false}, "axis": {"values": [0.01,0.1,1,10,100,1000], "format": "~g", "labelPadding": 15}},
  "detail": {"field": "N"}
 }},
{"transform": [{"filter": "(datum.x - 1) % 5 == 0"}],
 "mark": {"type": "point", "filled": false, "strokeWidth": 1, "size": 40, "opacity": 1, "clip": true},
 "encoding": {
  "x": {"field": "x", "type": "quantitative", "axis": null},
  "y": {"field": "v", "type": "quantitative", "axis": null},
  "shape": {"field": "N", "type": "nominal", "scale": {"domain": ["n3","n4","n5","n6","n7","n8","n9"], "range": ["M-1,0L1,0M0,-1L0,1", "M-1,-1L1,1M-1,1L1,-1", "M-1,0L1,0M0,-1L0,1M-0.7,-0.7L0.7,0.7M-0.7,0.7L0.7,-0.7", "square", "square", "circle", "circle"]}, "legend": {"legendX": 318.5, "legendY": 2, "labelExpr": "'N=' + substring(datum.label, 1)"}},
  "fill": {"field": "N", "type": "nominal", "scale": {"domain": ["n3","n4","n5","n6","n7","n8","n9"], "range": ["transparent","transparent","transparent","transparent","black","transparent","black"]}, "legend": {"legendX": 318.5, "legendY": 2, "labelExpr": "'N=' + substring(datum.label, 1)"}},
  "stroke": {"field": "N", "type": "nominal", "scale": {"domain": ["n3","n4","n5","n6","n7","n8","n9"], "range": ["black","black","black","black","black","black","black"]}, "legend": {"legendX": 318.5, "legendY": 2, "labelExpr": "'N=' + substring(datum.label, 1)"}}
 }},
{"mark": {"type": "point", "opacity": 0, "clip": true},
 "encoding": {
  "x": {"field": "x", "type": "quantitative", "axis": {"orient": "top", "labels": false, "title": null, "values": [20,40,60,80,100,120]}},
  "y": {"field": "v", "type": "quantitative", "axis": {"orient": "right", "labels": false, "title": null, "values": [0.01,0.1,1,10,100,1000]}}
 }}
]
},
{
"width": 360, "height": 210,
"title": "DLP 90th percentile times",
"data": {"name": "p4"},
"transform": [{"fold": ["n3","n4","n5","n6","n7","n8","n9"], "as": ["N","v"]}, {"filter": "datum.v != null"}],
"resolve": {"axis": {"x": "independent", "y": "independent"}},
"layer": [
{"mark": {"type": "line", "color": "black", "strokeWidth": 1, "clip": true},
 "encoding": {
  "x": {"field": "x", "type": "quantitative", "title": "L/N", "scale": {"domain": [1, 120], "nice": false, "zero": false}, "axis": {"values": [20,40,60,80,100,120]}},
  "y": {"field": "v", "type": "quantitative", "title": null, "scale": {"type": "log", "domain": [0.01, 1000], "nice": false}, "axis": {"values": [0.01,0.1,1,10,100,1000], "format": "~g", "labelPadding": 15}},
  "detail": {"field": "N"}
 }},
{"transform": [{"filter": "(datum.x - 1) % 5 == 0"}],
 "mark": {"type": "point", "filled": false, "strokeWidth": 1, "size": 40, "opacity": 1, "clip": true},
 "encoding": {
  "x": {"field": "x", "type": "quantitative", "axis": null},
  "y": {"field": "v", "type": "quantitative", "axis": null},
  "shape": {"field": "N", "type": "nominal", "scale": {"domain": ["n3","n4","n5","n6","n7","n8","n9"], "range": ["M-1,0L1,0M0,-1L0,1", "M-1,-1L1,1M-1,1L1,-1", "M-1,0L1,0M0,-1L0,1M-0.7,-0.7L0.7,0.7M-0.7,0.7L0.7,-0.7", "square", "square", "circle", "circle"]}, "legend": {"legendX": 318.5, "legendY": 2, "labelExpr": "'N=' + substring(datum.label, 1)"}},
  "fill": {"field": "N", "type": "nominal", "scale": {"domain": ["n3","n4","n5","n6","n7","n8","n9"], "range": ["transparent","transparent","transparent","transparent","black","transparent","black"]}, "legend": {"legendX": 318.5, "legendY": 2, "labelExpr": "'N=' + substring(datum.label, 1)"}},
  "stroke": {"field": "N", "type": "nominal", "scale": {"domain": ["n3","n4","n5","n6","n7","n8","n9"], "range": ["black","black","black","black","black","black","black"]}, "legend": {"legendX": 318.5, "legendY": 2, "labelExpr": "'N=' + substring(datum.label, 1)"}}
 }},
{"mark": {"type": "point", "opacity": 0, "clip": true},
 "encoding": {
  "x": {"field": "x", "type": "quantitative", "axis": {"orient": "top", "labels": false, "title": null, "values": [20,40,60,80,100,120]}},
  "y": {"field": "v", "type": "quantitative", "axis": {"orient": "right", "labels": false, "title": null, "values": [0.01,0.1,1,10,100,1000]}}
 }}
]
}
],
"spacing": 73, "bounds": "flush",
"resolve": {"scale": {"shape": "independent", "fill": "independent", "stroke": "independent", "strokeDash": "independent", "x": "independent", "y": "independent"}, "legend": {"shape": "independent", "fill": "independent", "stroke": "independent"}}
}
],
"spacing": 15.5, "bounds": "flush",
"resolve": {"scale": {"shape": "independent", "fill": "independent", "stroke": "independent", "strokeDash": "independent", "x": "independent", "y": "independent"}, "legend": {"shape": "independent", "fill": "independent", "stroke": "independent"}}
},
{
"hconcat": [
{"width": 1, "height": 210, "view": {"stroke": null}, "data": {"values": [{"a": 0}]}, "mark": {"type": "point", "opacity": 0}},
{
"hconcat": [
{
"width": 357, "height": 210,
"title": "*SAT median times",
"data": {"name": "p5"},
"transform": [{"fold": ["n3","n4","n5","n6","n7","n8","n9"], "as": ["N","v"]}, {"filter": "datum.v != null"}],
"resolve": {"axis": {"x": "independent", "y": "independent"}},
"layer": [
{"mark": {"type": "line", "color": "black", "strokeWidth": 1, "clip": true},
 "encoding": {
  "x": {"field": "x", "type": "quantitative", "title": "L/N", "scale": {"domain": [3, 120], "nice": false, "zero": false}, "axis": {"values": [20,40,60,80,100,120]}},
  "y": {"field": "v", "type": "quantitative", "title": null, "scale": {"type": "log", "domain": [0.01, 1000], "nice": false}, "axis": {"values": [0.01,0.1,1,10,100,1000], "format": "~g", "labelPadding": 15}},
  "detail": {"field": "N"}
 }},
{"transform": [{"filter": "(datum.x - 1) % 5 == 0"}],
 "mark": {"type": "point", "filled": false, "strokeWidth": 1, "size": 40, "opacity": 1, "clip": true},
 "encoding": {
  "x": {"field": "x", "type": "quantitative", "axis": null},
  "y": {"field": "v", "type": "quantitative", "axis": null},
  "shape": {"field": "N", "type": "nominal", "scale": {"domain": ["n3","n4","n5","n6","n7","n8","n9"], "range": ["M-1,0L1,0M0,-1L0,1", "M-1,-1L1,1M-1,1L1,-1", "M-1,0L1,0M0,-1L0,1M-0.7,-0.7L0.7,0.7M-0.7,0.7L0.7,-0.7", "square", "square", "circle", "circle"]}, "legend": {"legendX": 318.5, "legendY": 1, "labelExpr": "'N=' + substring(datum.label, 1)"}},
  "fill": {"field": "N", "type": "nominal", "scale": {"domain": ["n3","n4","n5","n6","n7","n8","n9"], "range": ["transparent","transparent","transparent","transparent","black","transparent","black"]}, "legend": {"legendX": 318.5, "legendY": 1, "labelExpr": "'N=' + substring(datum.label, 1)"}},
  "stroke": {"field": "N", "type": "nominal", "scale": {"domain": ["n3","n4","n5","n6","n7","n8","n9"], "range": ["black","black","black","black","black","black","black"]}, "legend": {"legendX": 318.5, "legendY": 1, "labelExpr": "'N=' + substring(datum.label, 1)"}}
 }},
{"mark": {"type": "point", "opacity": 0, "clip": true},
 "encoding": {
  "x": {"field": "x", "type": "quantitative", "axis": {"orient": "top", "labels": false, "title": null, "values": [20,40,60,80,100,120]}},
  "y": {"field": "v", "type": "quantitative", "axis": {"orient": "right", "labels": false, "title": null, "values": [0.01,0.1,1,10,100,1000]}}
 }}
]
},
{
"width": 370, "height": 210,
"title": "*SAT 90th percentile times",
"data": {"name": "p6"},
"transform": [{"fold": ["n3","n4","n5","n6","n7","n8","n9"], "as": ["N","v"]}, {"filter": "datum.v != null"}],
"resolve": {"axis": {"x": "independent", "y": "independent"}},
"layer": [
{"mark": {"type": "line", "color": "black", "strokeWidth": 1, "clip": true},
 "encoding": {
  "x": {"field": "x", "type": "quantitative", "title": "L/N", "scale": {"domain": [-2, 120], "nice": false, "zero": false}, "axis": {"values": [20,40,60,80,100,120]}},
  "y": {"field": "v", "type": "quantitative", "title": null, "scale": {"type": "log", "domain": [0.01, 1000], "nice": false}, "axis": {"values": [0.01,0.1,1,10,100,1000], "format": "~g", "labelPadding": 14}},
  "detail": {"field": "N"}
 }},
{"transform": [{"filter": "(datum.x - 1) % 5 == 0"}],
 "mark": {"type": "point", "filled": false, "strokeWidth": 1, "size": 40, "opacity": 1, "clip": true},
 "encoding": {
  "x": {"field": "x", "type": "quantitative", "axis": null},
  "y": {"field": "v", "type": "quantitative", "axis": null},
  "shape": {"field": "N", "type": "nominal", "scale": {"domain": ["n3","n4","n5","n6","n7","n8","n9"], "range": ["M-1,0L1,0M0,-1L0,1", "M-1,-1L1,1M-1,1L1,-1", "M-1,0L1,0M0,-1L0,1M-0.7,-0.7L0.7,0.7M-0.7,0.7L0.7,-0.7", "square", "square", "circle", "circle"]}, "legend": {"legendX": 328.5, "legendY": 1, "labelExpr": "'N=' + substring(datum.label, 1)"}},
  "fill": {"field": "N", "type": "nominal", "scale": {"domain": ["n3","n4","n5","n6","n7","n8","n9"], "range": ["transparent","transparent","transparent","transparent","black","transparent","black"]}, "legend": {"legendX": 328.5, "legendY": 1, "labelExpr": "'N=' + substring(datum.label, 1)"}},
  "stroke": {"field": "N", "type": "nominal", "scale": {"domain": ["n3","n4","n5","n6","n7","n8","n9"], "range": ["black","black","black","black","black","black","black"]}, "legend": {"legendX": 328.5, "legendY": 1, "labelExpr": "'N=' + substring(datum.label, 1)"}}
 }},
{"mark": {"type": "point", "opacity": 0, "clip": true},
 "encoding": {
  "x": {"field": "x", "type": "quantitative", "axis": {"orient": "top", "labels": false, "title": null, "values": [20,40,60,80,100,120]}},
  "y": {"field": "v", "type": "quantitative", "axis": {"orient": "right", "labels": false, "title": null, "values": [0.01,0.1,1,10,100,1000]}}
 }}
]
}
],
"spacing": 63, "bounds": "flush",
"resolve": {"scale": {"shape": "independent", "fill": "independent", "stroke": "independent", "strokeDash": "independent", "x": "independent", "y": "independent"}, "legend": {"shape": "independent", "fill": "independent", "stroke": "independent"}}
}
],
"spacing": 15.5, "bounds": "flush",
"resolve": {"scale": {"shape": "independent", "fill": "independent", "stroke": "independent", "strokeDash": "independent", "x": "independent", "y": "independent"}, "legend": {"shape": "independent", "fill": "independent", "stroke": "independent"}}
}
]
}
